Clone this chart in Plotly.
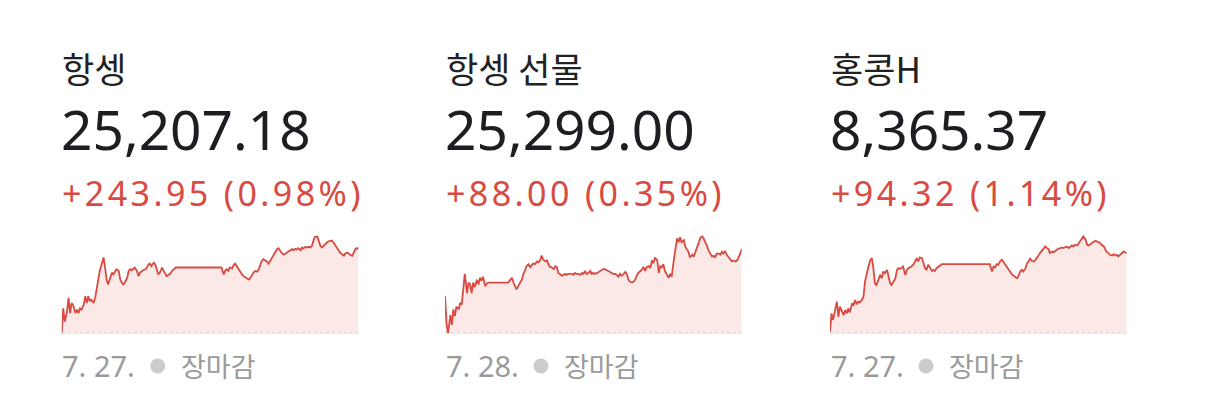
import plotly.graph_objects as go

# 항셍 / 홍콩H: minutes after the 09:30 open (lunch break 12:00-13:00)
cash_minutes = [0, 2, 4, 7, 9, 11, 13, 15, 18, 20, 22, 24, 26, 29, 31, 33, 35, 37, 39, 42, 44, 46, 48, 50,
                53, 55, 57, 59, 61, 64, 66, 68, 70, 72, 75, 77, 79, 81, 83, 86, 88, 90, 92, 94, 96, 99,
                101, 103, 105, 107, 110, 112, 114, 116, 118, 121, 123, 125, 127, 129, 132, 134, 136, 138,
                140, 143, 145, 147, 150,
                210, 213, 215, 217, 219, 221, 224, 226, 228, 230, 232, 235, 237, 239, 241, 243, 246, 248,
                250, 252, 254, 257, 259, 261, 263, 265, 268, 270, 272, 274, 276, 279, 281, 283, 285, 287,
                289, 292, 294, 296, 298, 300, 303, 305, 307, 309, 311, 314, 316, 318, 320, 322, 325, 327,
                329, 331, 333, 336, 338, 340, 342, 344, 346, 349, 351, 353, 355, 357, 360, 362, 364, 366,
                368, 371, 373, 375, 377, 379, 382, 384, 386, 388, 390]

# 항셍 선물: minutes after session open
fut_minutes = [0, 2, 4, 7, 9, 11, 13, 15, 18, 20, 22, 24, 26, 29, 31, 33, 35, 37, 39, 42, 44, 46, 48, 50,
               53, 55, 57,
               83, 86, 88, 90, 92, 94, 96, 99, 101, 103, 105, 107, 110, 112, 114, 116, 118, 121, 123, 125,
               127, 129, 132, 134, 136, 138, 140, 143, 145, 147, 149, 151, 154, 156, 158, 160, 162, 164,
               167, 169, 171, 173, 175, 178, 180, 182, 184, 186, 189, 191, 193, 195, 197, 200, 202, 204,
               206, 208,
               210, 213, 215, 217, 219, 221, 224, 226, 228, 230, 232, 235, 237, 239, 241, 243, 246, 248,
               250, 252, 254, 257, 259, 261, 263, 265, 268, 270, 272, 274, 276, 279, 281, 283, 285, 287,
               289, 292, 294, 296, 298, 300, 303, 305, 307, 309, 311, 314, 316, 318, 320, 322, 325, 327,
               329, 331, 333, 336, 338, 340, 342, 344, 346, 349, 351, 353, 355, 357, 360, 362, 364, 366,
               368, 371, 373, 375, 377, 379, 382, 384, 386, 388, 390]

hsi_values = [24963, 25036, 24997, 25027, 25066, 25022, 25051, 25046, 25022, 25032, 25022, 25036, 25032,
              25046, 25071, 25051, 25071, 25056, 25061, 25051, 25066, 25095, 25115, 25144, 25168, 25183,
              25154, 25119, 25105, 25124, 25139, 25134, 25144, 25149, 25144, 25119, 25110, 25105, 25110,
              25124, 25144, 25149, 25146, 25149, 25154, 25144, 25129, 25139, 25144, 25146, 25149, 25154,
              25163, 25165, 25158, 25168, 25163, 25149, 25134, 25139, 25154, 25144, 25134, 25129, 25132,
              25136, 25144, 25149, 25154,
              25154, 25134, 25146, 25149, 25144, 25154, 25151, 25161, 25165, 25158, 25149, 25139, 25134,
              25129, 25126, 25122, 25119, 25124, 25134, 25139, 25144, 25142, 25149, 25163, 25173, 25178,
              25175, 25171, 25165, 25173, 25183, 25193, 25202, 25207, 25210, 25202, 25197, 25191, 25193,
              25197, 25200, 25202, 25207, 25204, 25208, 25206, 25210, 25204, 25212, 25209, 25214, 25212,
              25214, 25212, 25217, 25232, 25243, 25244, 25227, 25217, 25212, 25217, 25222, 25227, 25230,
              25232, 25232, 25227, 25217, 25207, 25200, 25197, 25193, 25188, 25195, 25197, 25195, 25191,
              25188, 25197, 25207, 25210, 25207.18]

fut_values = [25250, 25222, 25211, 25230, 25220, 25236, 25229, 25239, 25236, 25243, 25241, 25259, 25273,
              25253, 25264, 25262, 25253, 25264, 25259, 25267, 25262, 25269, 25266, 25270, 25260, 25263,
              25264,
              25264, 25267, 25269, 25264, 25260, 25257, 25260, 25264, 25267, 25273, 25276, 25281, 25283,
              25280, 25282, 25284, 25283, 25286, 25285, 25287, 25292, 25288, 25286, 25287, 25283, 25280,
              25280, 25278, 25281, 25280, 25274, 25273, 25271, 25272, 25273, 25272, 25273, 25273, 25273,
              25272, 25274, 25273, 25273, 25272, 25274, 25273, 25276, 25273, 25274, 25276, 25273, 25274,
              25273, 25274, 25275, 25276, 25277, 25278, 25278, 25277, 25276, 25275, 25274, 25273, 25273,
              25271, 25270, 25273, 25271, 25273, 25275, 25273, 25267, 25265, 25264, 25265, 25267, 25271,
              25274, 25276, 25278, 25280, 25276, 25280, 25281, 25279, 25287, 25284, 25290, 25287, 25274,
              25281, 25280, 25283, 25276, 25271, 25269, 25273, 25270, 25283, 25297, 25310, 25306, 25311,
              25306, 25308, 25301, 25299, 25296, 25290, 25293, 25291, 25296, 25299, 25304, 25311, 25312,
              25310, 25306, 25303, 25298, 25293, 25291, 25292, 25290, 25294, 25294, 25293, 25296, 25294,
              25297, 25292, 25290, 25287, 25286, 25287, 25286, 25287, 25290, 25294, 25299]

hscei_values = [8273.0, 8294.6, 8286.8, 8298.6, 8308.4, 8290.7, 8302.5, 8298.6, 8292.7, 8298.6, 8294.6,
                8300.5, 8295.8, 8306.4, 8304.5, 8310.4, 8305.2, 8308.4, 8307.6, 8310.4, 8314.3, 8332.0,
                8341.8, 8347.7, 8357.5, 8359.5, 8347.7, 8330.0, 8328.0, 8335.9, 8339.8, 8335.9, 8343.8,
                8341.8, 8345.7, 8337.9, 8330.0, 8328.0, 8332.0, 8335.9, 8345.7, 8347.7, 8346.9, 8348.5,
                8349.7, 8339.8, 8345.7, 8347.7, 8348.5, 8349.7, 8352.4, 8355.5, 8359.5, 8355.5, 8360.3,
                8359.5, 8353.6, 8347.7, 8345.7, 8351.6, 8347.7, 8344.5, 8345.7, 8344.5, 8347.7, 8349.7,
                8351.6, 8352.4, 8352.4,
                8352.4, 8343.8, 8349.7, 8348.5, 8352.4, 8351.6, 8356.3, 8357.5, 8354.8, 8351.6, 8349.7,
                8345.7, 8343.0, 8340.6, 8339.0, 8337.9, 8335.9, 8339.0, 8343.8, 8345.7, 8343.8, 8347.7,
                8353.6, 8355.5, 8359.5, 8356.3, 8355.5, 8357.5, 8359.5, 8362.6, 8365.4, 8369.3, 8371.3,
                8373.2, 8371.3, 8370.5, 8365.4, 8367.3, 8366.5, 8368.1, 8369.3, 8370.5, 8371.3, 8372.1,
                8371.3, 8372.1, 8373.2, 8371.3, 8373.2, 8374.4, 8373.2, 8375.2, 8374.4, 8377.2, 8379.1,
                8383.1, 8385.0, 8381.1, 8375.2, 8374.4, 8376.0, 8377.2, 8378.3, 8379.9, 8379.1, 8378.3,
                8377.2, 8375.2, 8373.2, 8369.3, 8366.5, 8365.4, 8363.4, 8362.6, 8364.2, 8362.6, 8363.4,
                8361.4, 8364.2, 8366.5, 8367.3, 8366.2, 8365.37]

names = ["항셍", "항셍 선물", "홍콩H"]
prices = ["25,207.18", "25,299.00", "8,365.37"]
changes = ["+243.95 (0.98%)", "+88.00 (0.35%)", "+94.32 (1.14%)"]
prev_closes = [24963.23, 25211.00, 8271.05]
dates = ["7. 27.", "7. 28.", "7. 27."]
status = "장마감"

series = [(cash_minutes, hsi_values), (fut_minutes, fut_values), (cash_minutes, hscei_values)]

W, H = 1206, 412
OFF = 8  # page body margin
KR = "Noto Sans CJK KR"
NUM = "Noto Sans, Noto Sans CJK KR"
RED = "#d94a41"
left_px = [61.7, 445, 830]
chart_w = 296.7


def px(x):
    return (x - OFF) / W


def py(y):
    return 1 - (y - OFF) / H


fig = go.Figure()
annotations = []
shapes = []

for i, (xs, ys) in enumerate(series):
    n = "" if i == 0 else str(i + 1)
    lo = min(min(ys), prev_closes[i])
    hi = max(ys)
    fig.add_trace(go.Scatter(
        x=xs, y=ys, xaxis="x" + n, yaxis="y" + n, mode="lines",
        line=dict(color=RED, width=1.8), fill="tozeroy", fillcolor="rgba(219,75,66,0.12)",
        hoverinfo="skip", showlegend=False))
    left = left_px[i]
    fig.update_layout({
        "xaxis" + n: dict(domain=[px(left), px(left + chart_w)], range=[min(xs), max(xs)],
                          visible=False, fixedrange=True),
        "yaxis" + n: dict(domain=[py(333.5), py(233)], range=[lo, hi + (hi - lo) * 0.035],
                          visible=False, fixedrange=True),
    })
    # dotted baseline under the sparkline
    shapes.append(dict(type="line", xref="x" + n + " domain", yref="y" + n, x0=0, x1=1, y0=lo, y1=lo,
                       line=dict(color="#c8c8c8", width=1.5, dash="3px,3px")))
    # status dot in the footer
    shapes.append(dict(type="circle", xref="paper", yref="paper", line_width=0, fillcolor="#cccccc",
                       x0=px(left + 88.5), x1=px(left + 103.5), y0=py(373.5), y1=py(358.5)))

    annotations += [
        dict(text=names[i], x=px(left - 1.5), y=py(67), font=dict(size=35, color="#222222", family=KR)),
        dict(text=prices[i], x=px(left - 2.5), y=py(129), font=dict(size=55, color="#1e1e22", family=NUM)),
        dict(text="<span style='letter-spacing:3.4px'>" + changes[i] + "</span>",
             x=px(left - 1.5), y=py(193), font=dict(size=34, color=RED, family=NUM)),
        dict(text=dates[i], x=px(left - 1.5), y=py(365), font=dict(size=29, color="#9a9a9a", family=NUM)),
        dict(text=status, x=px(left + 117), y=py(365), font=dict(size=27, color="#9a9a9a", family=KR)),
    ]

for a in annotations:
    a.update(xref="paper", yref="paper", xanchor="left", yanchor="middle", showarrow=False)

fig.update_layout(
    width=W, height=H,
    margin=dict(l=0, r=0, t=0, b=0),
    paper_bgcolor="white", plot_bgcolor="white",
    annotations=annotations, shapes=shapes,
)

fig.write_html("out.html")
